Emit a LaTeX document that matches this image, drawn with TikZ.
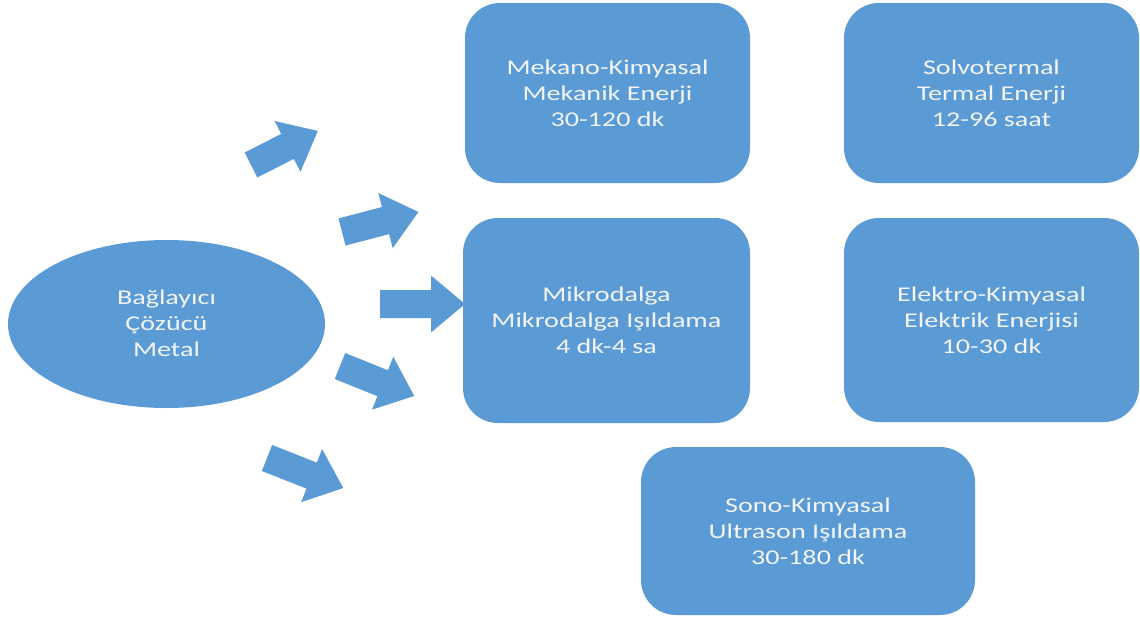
\documentclass[tikz,border=0pt]{standalone}
\usepackage{fontspec}
\setmainfont{Carlito}[FakeStretch=1.34]
\definecolor{boxblue}{HTML}{5B9BD5}
\definecolor{txt}{HTML}{F2F4F8}
\newcommand{\blockarrow}[4]{%
  \fill[boxblue, shift={(#1,#2)}, rotate=#3]
    (0,-14) -- ({#4-34},-14) -- ({#4-34},-28.5) -- (#4,0) --
    ({#4-34},28.5) -- ({#4-34},14) -- (0,14) -- cycle;}
\begin{document}
\begin{tikzpicture}[x=1pt,y=-1pt,
  every node/.style={font=\fontsize{21}{26}\selectfont, text=txt, align=center, inner sep=0pt},
  procbox/.style={fill=boxblue, rounded corners=35pt},
  source/.style={fill=boxblue, ellipse, minimum width=317pt, minimum height=168pt}]
\useasboundingbox (0,0) rectangle (1140,621);
\node[procbox, minimum width=285pt, minimum height=180pt] (mek) at (607.5,93) {Mekano-Kimyasal\\Mekanik Enerji\\30-120 dk};
\node[procbox, minimum width=295pt, minimum height=180pt] (sol) at (991.5,93) {Solvotermal\\Termal Enerji\\12-96 saat};
\node[procbox, minimum width=287pt, minimum height=205pt] (mik) at (606.5,320.5) {Mikrodalga\\Mikrodalga Işıldama\\4 dk-4 sa};
\node[procbox, minimum width=295pt, minimum height=204pt] (ele) at (991.5,320) {Elektro-Kimyasal\\Elektrik Enerjisi\\10-30 dk};
\node[procbox, minimum width=334pt, minimum height=168pt] (son) at (808,531) {Sono-Kimyasal\\Ultrason Işıldama\\30-180 dk};
\path[fill=boxblue] (166.5,324) ellipse [x radius=158.5, y radius=84];
\node (src) at (166.5,323) {Bağlayıcı\\Çözücü\\Metal};
\blockarrow{251}{165}{27}{75}
\blockarrow{342}{232}{14.7}{79}
\blockarrow{380}{304}{0}{85}
\blockarrow{340}{366}{-22}{80}
\blockarrow{267}{458}{-21.5}{82}
\end{tikzpicture}
\end{document}
